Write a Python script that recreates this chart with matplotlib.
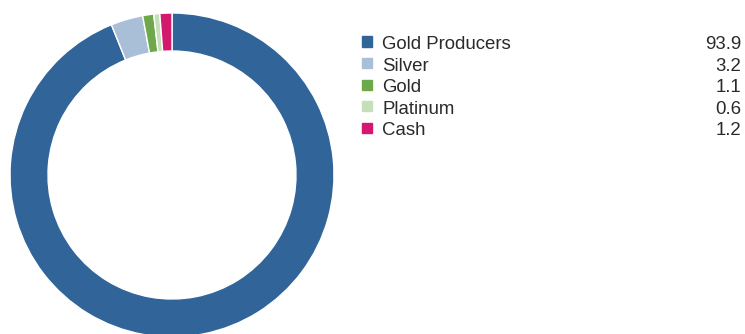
import matplotlib.pyplot as plt
from matplotlib.patches import Rectangle

labels = ['Gold Producers', 'Silver', 'Gold', 'Platinum', 'Cash']
values = [93.9, 3.2, 1.1, 0.6, 1.2]
colors = ['#316599', '#a9bfd7', '#6ea84b', '#c6dfbb', '#d2196e']

fig = plt.figure(figsize=(7.45, 3.34), dpi=100)
W, H = 745, 334

# donut
r_px = 162
cx, cy = 172, 334 - 175
ax = fig.add_axes([(cx - r_px) / W, (cy - r_px) / H, 2 * r_px / W, 2 * r_px / H])
ax.pie(values, colors=colors, startangle=90, counterclock=False,
       wedgeprops=dict(width=38 / r_px, edgecolor='white', linewidth=1))
ax.set_xlim(-1, 1)
ax.set_ylim(-1, 1)
ax.set_aspect('equal')
ax.axis('off')

# legend
y0 = 44.5
dy = 21.6
for i, (lab, val) in enumerate(zip(labels, values)):
    y = 1 - (y0 + i * dy) / H
    fig.patches.append(Rectangle((362 / W, y - 2 / H), 10 / W, 10 / H,
                                 transform=fig.transFigure, color=colors[i]))
    fig.text(382 / W, y, lab, fontsize=13.4, color='#2a2a2a', va='center', ha='left',
             family='Liberation Sans')
    fig.text(741 / W, y, '%.1f' % val, fontsize=13.4, color='#2a2a2a', va='center',
             ha='right', family='Liberation Sans')

fig.savefig('out.png', dpi=100)
